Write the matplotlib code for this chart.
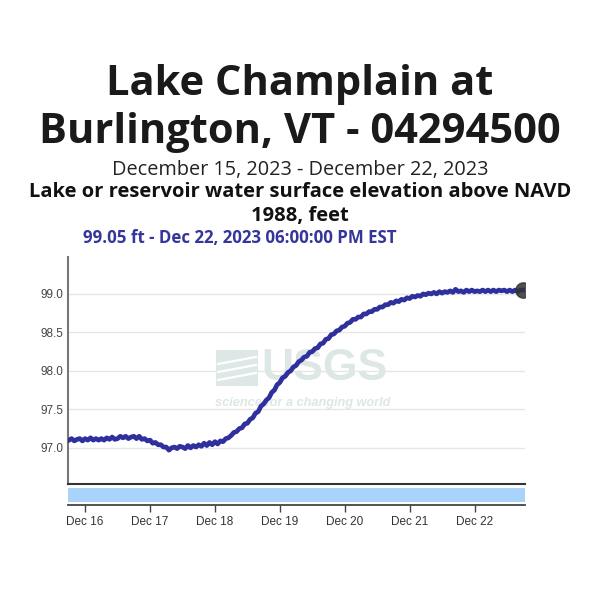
import matplotlib
matplotlib.use("Agg")
import matplotlib.pyplot as plt
import matplotlib.dates as mdates
from matplotlib.patches import Rectangle
import pandas as pd

# hourly lake elevation readings, Dec 15 6 PM to Dec 22 6 PM (EST)
start = "2023-12-15 18:00"
elev_ft = [97.10, 97.12, 97.09, 97.11, 97.12, 97.09, 97.12, 97.10, 97.13, 97.10,
           97.12, 97.10, 97.12, 97.10, 97.13, 97.11, 97.14, 97.11, 97.12, 97.15,
           97.13, 97.15, 97.12, 97.14, 97.15, 97.12, 97.15, 97.11, 97.12, 97.09,
           97.10, 97.06, 97.07, 97.04, 97.04, 97.01, 97.01, 96.97, 97.00, 97.01,
           96.99, 97.02, 97.01, 96.99, 97.03, 97.00, 97.03, 97.01, 97.04, 97.02,
           97.06, 97.03, 97.07, 97.04, 97.08, 97.05, 97.09, 97.08, 97.12, 97.13,
           97.16, 97.20, 97.21, 97.25, 97.26, 97.31, 97.32, 97.37, 97.39, 97.45,
           97.47, 97.54, 97.57, 97.62, 97.65, 97.72, 97.75, 97.82, 97.85, 97.91,
           97.93, 97.98, 98.00, 98.05, 98.07, 98.12, 98.14, 98.18, 98.19, 98.24,
           98.25, 98.29, 98.30, 98.35, 98.36, 98.41, 98.42, 98.47, 98.48, 98.52,
           98.53, 98.57, 98.58, 98.62, 98.63, 98.67, 98.67, 98.70, 98.70, 98.74,
           98.74, 98.77, 98.77, 98.80, 98.80, 98.83, 98.83, 98.86, 98.86, 98.89,
           98.88, 98.91, 98.90, 98.93, 98.92, 98.95, 98.94, 98.97, 98.96, 98.98,
           98.97, 99.00, 98.99, 99.01, 99.00, 99.02, 99.00, 99.03, 99.01, 99.03,
           99.02, 99.04, 99.02, 99.06, 99.03, 99.04, 99.02, 99.05, 99.03, 99.05,
           99.03, 99.04, 99.03, 99.05, 99.03, 99.05, 99.03, 99.05, 99.03, 99.05,
           99.04, 99.05, 99.03, 99.05, 99.03, 99.05, 99.03, 99.05, 99.05]
times = pd.date_range(start, periods=len(elev_ft), freq="h")

yticks = [97.0, 97.5, 98.0, 98.5, 99.0]
xticks = pd.date_range("2023-12-16", "2023-12-22", freq="D")

fig = plt.figure(figsize=(6, 6.01), dpi=100)
W, H = 600.0, 601.0

def fy(py):
    return 1 - py / H

# titles
tfont = "Open Sans"
fig.text(0.5, fy(95), "Lake Champlain at", ha="center", va="baseline",
         fontsize=30, fontweight="bold", family=tfont, color="#1a1a1a")
fig.text(0.5, fy(143), "Burlington, VT - 04294500", ha="center", va="baseline",
         fontsize=30, fontweight="bold", family=tfont, color="#1a1a1a")
fig.text(0.5, fy(175), "December 15, 2023 - December 22, 2023", ha="center",
         va="baseline", fontsize=14.3, family=tfont, color="#222222")
fig.text(0.5, fy(197), "Lake or reservoir water surface elevation above NAVD",
         ha="center", va="baseline", fontsize=14.5, fontweight="bold",
         family=tfont, color="#111111")
fig.text(0.5, fy(221), "1988, feet", ha="center", va="baseline", fontsize=14.5,
         fontweight="bold", family=tfont, color="#111111")
fig.text(83 / W, fy(243), "99.05 ft - Dec 22, 2023 06:00:00 PM EST", ha="left",
         va="baseline", fontsize=12.2, fontweight="bold", family=tfont,
         color="#35359a")

# main plot
x0, x1 = times[0] - pd.Timedelta(minutes=20), times[-1] + pd.Timedelta(minutes=40)
ax = fig.add_axes([68 / W, fy(484), (525 - 68) / W, (484 - 257) / H])
ax.plot(times, elev_ft, color="#2f2f9e", lw=3.4, zorder=3)
ax.plot(times[-1], elev_ft[-1], "o", ms=11, color="#333333", alpha=0.85, zorder=4)
ax.set_xlim(x0, x1)
ax.set_ylim(96.53, 99.48)
ax.set_yticks(yticks)
ax.set_yticklabels(["%.1f" % v for v in yticks])
ax.tick_params(axis="y", length=0, pad=3, labelsize=8.5, labelcolor="#444444")
ax.set_xticks([])
ax.yaxis.grid(True, color="#e6e6e6", lw=1)
ax.set_axisbelow(True)
for s in ["top", "right"]:
    ax.spines[s].set_visible(False)
ax.spines["left"].set_color("#777777")
ax.spines["left"].set_linewidth(1.5)
ax.spines["bottom"].set_color("#333333")
ax.spines["bottom"].set_linewidth(1.5)
for lbl in ax.get_yticklabels():
    lbl.set_family("Liberation Sans")

# USGS watermark
wm = "#dde7e5"
ax.add_patch(Rectangle((216 / W, fy(386)), 42 / W, 36 / H, transform=fig.transFigure,
                       color=wm, lw=0, zorder=1))
for py in [360, 368, 376]:
    ax.plot([218 / W, 256 / W], [fy(py + 4), fy(py - 3)], transform=fig.transFigure,
            color="white", lw=1.6, zorder=1.1)
ax.text(261 / W, fy(368), "USGS", transform=fig.transFigure, ha="left",
        va="center", fontsize=32, fontweight="bold", family="Liberation Sans",
        color=wm, zorder=1)
ax.text(215 / W, fy(403), "science for a changing world", transform=fig.transFigure,
        ha="left", va="center", fontsize=9.2, fontweight="bold", style="italic",
        family="Liberation Sans", color=wm, zorder=1)

# blue band with date axis
bx = fig.add_axes([68 / W, fy(505), (525 - 68) / W, 18 / H])
bx.axhspan(0.17, 0.94, color="#a9d3fa", lw=0)
bx.set_xlim(x0, x1)
bx.set_ylim(0, 1)
bx.set_yticks([])
bx.set_xticks(xticks)
bx.xaxis.set_major_formatter(mdates.DateFormatter("%b %d"))
bx.tick_params(axis="x", length=5, width=1, color="#444444", pad=3,
               labelsize=8.5, labelcolor="#333333")
for lbl in bx.get_xticklabels():
    lbl.set_family("Liberation Sans")
for s in ["top", "right", "left"]:
    bx.spines[s].set_visible(False)
bx.spines["bottom"].set_color("#444444")
bx.spines["bottom"].set_linewidth(1.3)

fig.savefig("out.png", dpi=100)
